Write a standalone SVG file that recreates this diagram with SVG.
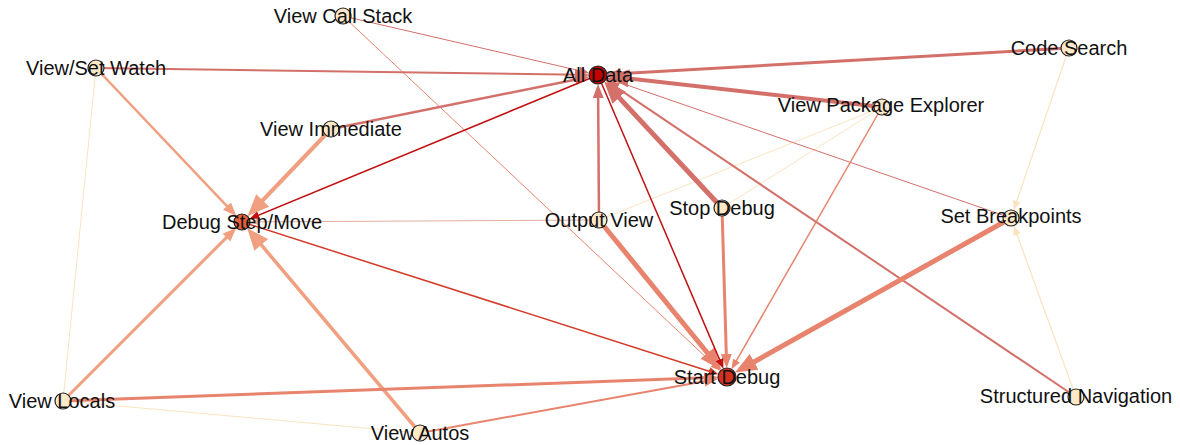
<svg xmlns="http://www.w3.org/2000/svg" width="1180" height="445" viewBox="0 0 1180 445">
<style>
.e{fill:none;stroke-linecap:butt}
.rose{stroke:#d4706a}
.sal{stroke:#e8846e}
.lsal{stroke:#f0a080}
.dred{stroke:#c01010}
.red{stroke:#d43a28}
.crm{stroke:#fbe3c0}
.gry{stroke:#e0b0a0}
.n{stroke:#222;stroke-width:1.2}
.cream{fill:#fde8c8}
text{font-family:"Liberation Sans",Arial,sans-serif;font-size:20px;fill:#111;text-anchor:middle}
</style>
<defs>
<marker id="rs" markerUnits="userSpaceOnUse" markerWidth="10" markerHeight="8" refX="5" refY="4" orient="auto"><path d="M0,0L10,4L0,8z" fill="#d4706a"/></marker>
<marker id="rm" markerUnits="userSpaceOnUse" markerWidth="14" markerHeight="11" refX="7" refY="5.5" orient="auto"><path d="M0,0L14,5.5L0,11z" fill="#d4706a"/></marker>
<marker id="rl" markerUnits="userSpaceOnUse" markerWidth="22" markerHeight="18" refX="11" refY="9" orient="auto"><path d="M0,0L22,9L0,18z" fill="#d4706a"/></marker>
<marker id="ss" markerUnits="userSpaceOnUse" markerWidth="10" markerHeight="8" refX="5" refY="4" orient="auto"><path d="M0,0L10,4L0,8z" fill="#e8846e"/></marker>
<marker id="sm" markerUnits="userSpaceOnUse" markerWidth="14" markerHeight="11" refX="7" refY="5.5" orient="auto"><path d="M0,0L14,5.5L0,11z" fill="#e8846e"/></marker>
<marker id="sl" markerUnits="userSpaceOnUse" markerWidth="22" markerHeight="18" refX="11" refY="9" orient="auto"><path d="M0,0L22,9L0,18z" fill="#e8846e"/></marker>
<marker id="lm" markerUnits="userSpaceOnUse" markerWidth="14" markerHeight="11" refX="7" refY="5.5" orient="auto"><path d="M0,0L14,5.5L0,11z" fill="#f0a080"/></marker>
<marker id="ll" markerUnits="userSpaceOnUse" markerWidth="22" markerHeight="18" refX="11" refY="9" orient="auto"><path d="M0,0L22,9L0,18z" fill="#f0a080"/></marker>
<marker id="ds" markerUnits="userSpaceOnUse" markerWidth="10" markerHeight="8" refX="5" refY="4" orient="auto"><path d="M0,0L10,4L0,8z" fill="#c01010"/></marker>
<marker id="es" markerUnits="userSpaceOnUse" markerWidth="10" markerHeight="8" refX="5" refY="4" orient="auto"><path d="M0,0L10,4L0,8z" fill="#d43a28"/></marker>
<marker id="cs" markerUnits="userSpaceOnUse" markerWidth="10" markerHeight="8" refX="5" refY="4" orient="auto"><path d="M0,0L10,4L0,8z" fill="#fbe3c0"/></marker>
<marker id="gs" markerUnits="userSpaceOnUse" markerWidth="10" markerHeight="8" refX="5" refY="4" orient="auto"><path d="M0,0L10,4L0,8z" fill="#e0b0a0"/></marker>
</defs>
<g id="connectors">
<line class="e crm" stroke-width="1" x1="96" y1="68" x2="63" y2="401"/>
<line class="e crm" stroke-width="1" x1="63" y1="401" x2="420" y2="433"/>
<line class="e crm" stroke-width="1" x1="882" y1="107" x2="599" y2="220"/>
<line class="e crm" stroke-width="1" x1="882" y1="107" x2="722" y2="208"/>
<line class="e crm" stroke-width="1.2" x1="1069" y1="48" x2="1015.2" y2="205.7" marker-end="url(#cs)"/>
<line class="e crm" stroke-width="1.2" x1="1076" y1="397" x2="1015.4" y2="230.2" marker-end="url(#cs)"/>
<line class="e gry" stroke-width="1" x1="599" y1="220" x2="255" y2="221.9" marker-end="url(#gs)"/>
<line class="e rose" stroke-width="1" x1="343" y1="16" x2="584.4" y2="71.8" marker-end="url(#rs)"/>
<line class="e rose" stroke-width="1" x1="1011" y1="218" x2="611.2" y2="79.6" marker-end="url(#rs)"/>
<line class="e sal" stroke-width="1" x1="343" y1="16" x2="716.8" y2="367.4" marker-end="url(#ss)"/>
<line class="e sal" stroke-width="1.5" x1="882" y1="107" x2="734" y2="364.9" marker-end="url(#ss)"/>
<line class="e rose" stroke-width="2" x1="96" y1="68" x2="582" y2="74.8" marker-end="url(#rm)"/>
<line class="e rose" stroke-width="3" x1="1069" y1="48" x2="614" y2="74.1" marker-end="url(#rm)"/>
<line class="e rose" stroke-width="2.5" x1="331" y1="129" x2="582.3" y2="78.2" marker-end="url(#rm)"/>
<line class="e rose" stroke-width="2.5" x1="599" y1="220" x2="598.1" y2="91" marker-end="url(#rm)"/>
<line class="e rose" stroke-width="2" x1="1076" y1="397" x2="611.3" y2="83.9" marker-end="url(#rm)"/>
<line class="e rose" stroke-width="4" x1="882" y1="107" x2="617.9" y2="77.2" marker-end="url(#rl)"/>
<line class="e rose" stroke-width="5" x1="722" y1="208" x2="611.6" y2="89.6" marker-end="url(#rl)"/>
<line class="e lsal" stroke-width="2.5" x1="96" y1="68" x2="231.7" y2="211.1" marker-end="url(#lm)"/>
<line class="e lsal" stroke-width="3" x1="63" y1="401" x2="231.4" y2="232.6" marker-end="url(#lm)"/>
<line class="e lsal" stroke-width="3.5" x1="420" y1="433" x2="254.2" y2="236.5" marker-end="url(#ll)"/>
<line class="e lsal" stroke-width="4" x1="331" y1="129" x2="255.1" y2="208.3" marker-end="url(#ll)"/>
<line class="e sal" stroke-width="3" x1="63" y1="401" x2="711" y2="377.6" marker-end="url(#sm)"/>
<line class="e sal" stroke-width="2" x1="420" y1="433" x2="711.3" y2="379.9" marker-end="url(#sm)"/>
<line class="e sal" stroke-width="3" x1="722" y1="208" x2="726.5" y2="361" marker-end="url(#sm)"/>
<line class="e sal" stroke-width="5" x1="599" y1="220" x2="714.4" y2="361.5" marker-end="url(#sl)"/>
<line class="e sal" stroke-width="5" x1="1011" y1="218" x2="744.5" y2="367.2" marker-end="url(#sl)"/>
<line class="e red" stroke-width="1.5" x1="242" y1="222" x2="713.7" y2="372.7" marker-end="url(#es)"/>
<line class="e dred" stroke-width="1.5" x1="598" y1="75" x2="254" y2="217" marker-end="url(#ds)"/>
<line class="e dred" stroke-width="1.5" x1="598" y1="75" x2="721.5" y2="364.1" marker-end="url(#ds)"/>
</g>
<g id="node-view-call-stack"><circle class="n cream" cx="343" cy="16" r="8"/><text x="343" y="23">View Call Stack</text></g>
<g id="node-view-set-watch"><circle class="n cream" cx="96" cy="68" r="8"/><text x="96" y="75">View/Set Watch</text></g>
<g id="node-code-search"><circle class="n cream" cx="1069" cy="48" r="8"/><text x="1069" y="55">Code Search</text></g>
<g id="node-all-data"><circle class="n" fill="#c40000" cx="598" cy="75" r="9"/><text x="598" y="82">All Data</text></g>
<g id="node-view-package-explorer"><circle class="n cream" cx="882" cy="107" r="8"/><text x="881" y="112">View Package Explorer</text></g>
<g id="node-view-immediate"><circle class="n cream" cx="331" cy="129" r="8"/><text x="331" y="136">View Immediate</text></g>
<g id="node-debug-step-move"><circle class="n" fill="#e8603c" cx="242" cy="222" r="8"/><text x="242" y="229">Debug Step/Move</text></g>
<g id="node-output-view"><circle class="n cream" cx="599" cy="220" r="8"/><text x="599" y="227">Output View</text></g>
<g id="node-stop-debug"><circle class="n cream" cx="722" cy="208" r="8"/><text x="722" y="215">Stop Debug</text></g>
<g id="node-set-breakpoints"><circle class="n cream" cx="1011" cy="218" r="8"/><text x="1011" y="223">Set Breakpoints</text></g>
<g id="node-start-debug"><circle class="n" fill="#d43020" cx="727" cy="377" r="9"/><text x="727" y="384">Start Debug</text></g>
<g id="node-view-locals"><circle class="n cream" cx="63" cy="401" r="8"/><text x="62" y="408">View Locals</text></g>
<g id="node-view-autos"><circle class="n cream" cx="420" cy="433" r="8"/><text x="420" y="440">View Autos</text></g>
<g id="node-structured-navigation"><circle class="n cream" cx="1076" cy="397" r="8"/><text x="1076" y="403">Structured Navigation</text></g>
</svg>
